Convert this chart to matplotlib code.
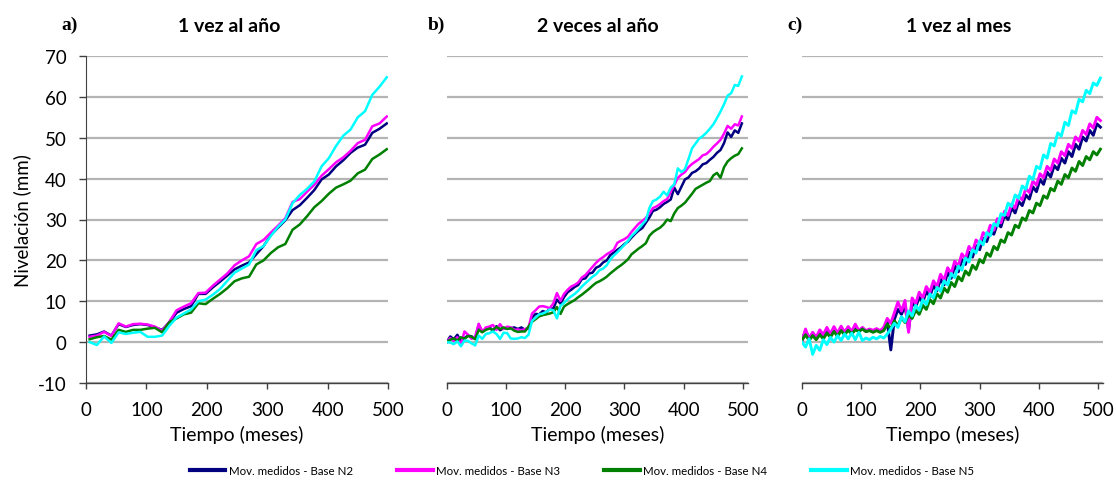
import numpy as np
import matplotlib
matplotlib.use("Agg")
import matplotlib.pyplot as plt
from matplotlib.lines import Line2D

plt.rcParams["font.family"] = ["Lato", "DejaVu Sans"]
plt.rcParams["axes.unicode_minus"] = False

# --- data -----------------------------------------------------------------
series_names = ["Mov. medidos - Base N2", "Mov. medidos - Base N3",
                "Mov. medidos - Base N4", "Mov. medidos - Base N5"]
series_colors = ["#000080", "#FF00FF", "#008000", "#00FFFF"]
panel_titles = ["1 vez al año", "2 veces al año", "1 vez al mes"]
panel_tags = ["a)", "b)", "c)"]
y_ticks = [-10, 0, 10, 20, 30, 40, 50, 60, 70]
x_ticks = [0, 100, 200, 300, 400, 500]

# a) one survey per year
t_a = list(range(6, 499, 12))
a_n2 = [1.6, 1.9, 2.6, 1.6, 4.4, 3.7, 4.2, 4.4, 4.2, 3.6, 3.0, 4.8, 7.2, 8.1,
        8.8, 11.8, 11.8, 13.4, 14.8, 16.3, 17.8, 18.7, 19.5, 21.5, 23.5, 26.2,
        28.0, 29.8, 32.3, 33.5, 35.3, 37.2, 39.8, 41.0, 43.0, 44.5, 46.3, 47.6,
        48.3, 51.2, 52.2, 53.5]
a_n3 = [1.3, 1.6, 2.5, 1.5, 4.6, 3.8, 4.4, 4.5, 4.3, 3.8, 2.8, 5.0, 7.8, 8.7,
        9.5, 12.0, 12.1, 13.8, 15.3, 16.8, 18.8, 20.0, 21.0, 24.0, 25.0, 26.8,
        28.5, 30.3, 34.3, 35.0, 36.8, 38.5, 40.7, 42.3, 44.0, 45.2, 46.8, 48.7,
        49.5, 52.8, 53.5, 55.2]
a_n4 = [0.7, 1.2, 1.5, 0.6, 3.0, 2.5, 3.0, 3.0, 3.3, 3.5, 2.4, 4.9, 5.8, 6.8,
        7.2, 9.5, 9.3, 10.6, 11.8, 13.2, 14.9, 15.6, 16.0, 19.0, 20.0, 21.8,
        23.2, 24.0, 27.5, 28.8, 30.8, 33.0, 34.5, 36.3, 37.8, 38.6, 39.5, 41.3,
        42.2, 44.8, 45.9, 47.2]
a_n5 = [0.0, -0.7, 1.4, -0.2, 2.4, 2.0, 2.3, 2.5, 1.3, 1.3, 1.6, 4.0, 6.0, 7.0,
        8.0, 10.0, 10.4, 11.6, 13.0, 15.0, 17.0, 18.0, 19.0, 22.5, 23.5, 26.0,
        28.2, 30.0, 34.0, 36.0, 37.5, 39.3, 43.0, 45.0, 48.0, 50.5, 52.0, 55.0,
        56.5, 60.5, 62.5, 64.8]

# b) two surveys per year
t_b = list(range(0, 499, 6))
b_n2 = [0.0, 1.4, 0.7, 1.8, 0.2, 1.0, 1.6, 1.4, 0.8, 4.3, 2.6, 3.2, 3.7, 2.8,
        3.9, 2.9, 3.4, 3.3, 3.4, 3.6, 3.2, 3.6, 3.0, 3.4, 6.0, 6.9, 6.8, 7.6,
        7.3, 8.2, 8.2, 10.4, 9.4, 11.0, 12.2, 12.8, 13.5, 14.0, 15.4, 15.6,
        16.8, 17.0, 18.2, 18.6, 19.5, 20.0, 21.3, 21.9, 22.6, 23.2, 24.0, 24.6,
        25.6, 26.5, 27.3, 27.9, 29.2, 30.5, 32.1, 32.4, 33.0, 33.8, 34.3, 34.9,
        37.8, 36.2, 38.0, 39.8, 40.3, 41.4, 41.8, 42.5, 43.5, 43.8, 44.6, 45.3,
        46.3, 47.0, 48.7, 51.3, 50.2, 51.8, 51.2, 53.5]
b_n3 = [0.0, 1.0, 0.3, 1.2, -0.6, 2.6, 1.8, 0.8, 1.4, 4.5, 2.5, 3.6, 3.8, 4.2,
        3.0, 4.4, 3.2, 3.8, 3.6, 3.0, 3.1, 2.9, 3.2, 3.5, 7.0, 7.8, 8.7, 8.8,
        8.6, 8.3, 9.5, 12.0, 10.1, 11.8, 12.8, 13.6, 14.0, 14.6, 15.8, 16.4,
        17.4, 18.4, 19.4, 20.2, 20.8, 21.5, 22.0, 22.6, 24.3, 24.8, 25.2, 25.8,
        27.0, 28.0, 29.0, 29.6, 30.4, 31.5, 32.8, 33.2, 33.8, 34.5, 35.0, 36.8,
        38.4, 40.2, 41.0, 41.6, 42.8, 43.6, 44.2, 44.8, 45.7, 46.0, 46.8, 47.8,
        48.6, 49.5, 51.0, 52.9, 52.2, 53.3, 53.0, 55.2]
b_n4 = [0.0, 0.6, 0.9, 0.4, 1.2, 0.8, 1.5, 1.3, 0.7, 3.0, 2.4, 3.0, 3.3, 3.0,
        3.7, 3.2, 3.6, 3.2, 3.4, 2.8, 2.5, 2.6, 2.6, 3.8, 5.0, 5.6, 6.3, 6.6,
        6.8, 7.0, 7.3, 8.6, 6.9, 8.7, 9.3, 9.8, 10.3, 11.0, 11.6, 12.3, 13.0,
        13.8, 14.5, 14.9, 15.4, 16.0, 16.8, 17.5, 18.2, 18.8, 19.5, 20.3, 21.5,
        22.2, 22.9, 23.5, 24.2, 26.0, 26.9, 27.5, 28.0, 28.8, 30.0, 29.6, 31.5,
        32.8, 33.4, 34.1, 35.2, 36.3, 37.5, 38.0, 38.5, 39.0, 39.4, 40.8, 41.4,
        40.2, 42.8, 44.2, 45.0, 45.6, 46.0, 47.4]
b_n5 = [0.0, -0.1, -0.5, 0.2, -1.0, 0.4, 0.3, -0.3, -0.8, 1.6, 0.8, 2.0, 2.2,
        2.6, 2.0, 0.8, 2.3, 2.2, 0.9, 0.8, 0.9, 1.2, 1.0, 1.8, 5.2, 6.0, 6.8,
        7.0, 7.4, 8.0, 7.8, 5.8, 8.9, 9.6, 10.5, 11.2, 11.8, 12.6, 13.6, 14.4,
        15.2, 16.0, 16.6, 17.6, 18.0, 18.8, 20.2, 21.2, 22.0, 22.9, 23.8, 24.8,
        26.0, 26.8, 27.8, 28.8, 29.8, 32.8, 34.5, 34.9, 35.6, 36.8, 35.9, 37.8,
        38.6, 42.5, 41.6, 42.3, 44.8, 47.4, 48.6, 49.8, 50.4, 51.2, 52.2, 53.3,
        54.8, 56.4, 58.2, 60.3, 60.9, 62.9, 62.7, 65.0]

# c) one survey per month
t_c = list(range(0, 505, 6))
c_n2 = [0.5, 2.8, 1.0, 2.2, 0.8, 2.6, 1.5, 3.2, 1.8, 3.4, 2.0, 3.5, 2.3, 3.6,
        2.4, 3.8, 2.6, 3.4, 2.6, 3.0, 2.7, 3.1, 2.6, 3.3, 5.0, -1.9, 5.6, 8.0,
        6.8, 9.0, 3.0, 9.8, 8.6, 11.0, 9.8, 12.4, 11.2, 13.8, 12.6, 15.4, 14.0,
        17.0, 15.6, 18.6, 17.2, 20.2, 19.0, 22.0, 20.8, 23.6, 22.6, 25.4, 24.6,
        27.2, 26.4, 29.0, 28.2, 31.0, 30.0, 32.8, 31.6, 34.4, 33.4, 36.0, 35.0,
        38.0, 36.8, 39.8, 38.6, 41.6, 40.4, 43.2, 42.2, 45.0, 43.8, 46.6, 45.4,
        48.4, 47.2, 50.2, 49.2, 51.8, 50.6, 53.4, 52.6]
c_n3 = [0.2, 3.2, 0.6, 2.4, 1.2, 3.0, 1.8, 3.6, 2.0, 3.8, 2.2, 3.9, 2.4, 3.8,
        2.6, 4.4, 2.8, 3.6, 2.8, 3.2, 2.9, 3.3, 2.8, 3.6, 5.8, 4.6, 7.2, 9.8,
        7.6, 10.2, 2.4, 10.8, 9.4, 12.2, 10.8, 13.6, 12.2, 15.0, 13.6, 16.6,
        15.2, 18.2, 16.8, 19.8, 18.6, 21.6, 20.4, 23.4, 22.2, 25.0, 24.0, 26.8,
        25.8, 28.6, 27.4, 30.2, 29.2, 32.0, 31.0, 33.8, 32.8, 35.8, 34.8, 37.6,
        36.6, 39.4, 38.4, 41.2, 40.2, 43.0, 42.0, 44.8, 43.8, 46.6, 45.6, 48.4,
        47.4, 50.2, 49.2, 51.8, 50.8, 53.4, 52.4, 55.0, 54.2]
c_n4 = [0.5, 1.8, 0.4, 1.6, 0.6, 1.8, 0.8, 2.2, 1.2, 2.6, 1.4, 2.8, 1.8, 2.9,
        2.0, 3.0, 2.6, 3.2, 2.6, 2.8, 2.4, 2.8, 2.4, 2.8, 4.4, 3.2, 5.2, 4.0,
        6.0, 4.8, 6.8, 5.8, 7.8, 6.8, 9.0, 8.0, 10.4, 9.4, 11.8, 10.8, 13.2,
        12.2, 14.6, 13.6, 16.0, 15.0, 17.4, 16.4, 18.8, 17.8, 20.2, 19.4, 21.8,
        21.0, 23.4, 22.6, 25.0, 24.4, 26.8, 26.2, 28.6, 28.0, 30.4, 29.8, 32.2,
        31.6, 34.0, 33.4, 35.8, 35.2, 37.6, 37.0, 39.4, 38.6, 41.0, 40.2, 42.6,
        41.8, 44.2, 43.2, 45.4, 44.6, 46.6, 45.8, 47.2]
c_n5 = [0.0, -1.2, 0.8, -3.0, -0.8, -2.0, 0.6, -0.6, 1.2, 0.0, 1.6, 0.4, 2.0,
        0.8, 2.2, 0.6, 2.4, 0.4, 1.0, 0.6, 1.2, 0.8, 1.4, 1.0, 2.0, 3.2, 4.6,
        3.6, 6.2, 5.0, 7.6, 6.4, 9.0, 7.8, 10.4, 9.2, 11.8, 10.8, 13.4, 12.4,
        15.0, 14.0, 16.8, 15.8, 18.6, 17.6, 20.6, 19.6, 22.6, 21.8, 24.8, 23.8,
        26.8, 26.0, 29.0, 28.4, 31.4, 31.0, 34.0, 33.2, 36.0, 35.2, 38.2, 37.4,
        40.6, 39.8, 43.0, 42.4, 45.8, 45.0, 48.6, 48.0, 51.2, 50.4, 53.8, 53.0,
        56.6, 56.0, 59.4, 58.8, 61.6, 60.8, 63.4, 62.8, 64.6]

panels = [
    (t_a, [a_n2, a_n3, a_n4, a_n5], 500, 1.8),
    (t_b, [b_n2, b_n3, b_n4, b_n5], 508.4, 1.8),
    (t_c, [c_n2, c_n3, c_n4, c_n5], 508.4, 2.1),
]

# --- figure ---------------------------------------------------------------
fig = plt.figure(figsize=(11.16, 4.81), dpi=100)
W, H = 1116, 481
axes_px = [(86, 388), (446.7, 748), (802, 1103)]
top_px, bottom_px = 57, 384
title_x = [229, 598, 959]
tag_x = [70, 436, 795]

for i, (t, ys, xmax, lw) in enumerate(panels):
    x0, x1 = axes_px[i]
    ax = fig.add_axes([x0 / W, 1 - bottom_px / H, (x1 - x0) / W,
                       (bottom_px - top_px) / H])
    for y, c in zip(ys, series_colors):
        ax.plot(t, y, color=c, lw=lw, solid_joinstyle="round", zorder=3)
    ax.set_xlim(0, xmax)
    ax.set_ylim(-10, 70)
    ax.set_xticks(x_ticks)
    ax.set_yticks(y_ticks)
    ax.yaxis.grid(True, color="#b4b4b4", lw=1.6, zorder=0)
    ax.set_axisbelow(True)
    for s in ["top", "right"]:
        ax.spines[s].set_visible(False)
    ax.spines["bottom"].set_color("#404040")
    ax.spines["bottom"].set_linewidth(1.0)
    ax.tick_params(axis="x", length=4, width=1.0, color="#404040",
                   labelsize=13.5, pad=9)
    if i == 0:
        ax.spines["left"].set_color("#404040")
        ax.tick_params(axis="y", length=5, width=1.0, color="#404040",
                       labelsize=13.5, pad=9)
        ax.set_ylabel("Nivelación (mm)", fontsize=13.5, labelpad=5)
    else:
        ax.spines["left"].set_visible(False)
        ax.tick_params(axis="y", length=0, labelleft=False)
    ax.set_xlabel("Tiempo (meses)", fontsize=14, labelpad=5)
    fig.text(title_x[i] / W, 1 - 27 / H, panel_titles[i], fontsize=14,
             fontweight="bold", ha="center", va="center")
    fig.text(tag_x[i] / W, 1 - 25 / H, panel_tags[i], fontsize=14,
             fontweight="bold", family="Liberation Serif",
             ha="center", va="center")

handles = [Line2D([], [], color=c, lw=3) for c in series_colors]
fig.legend(handles, series_names, loc="center", ncol=4, frameon=False,
           bbox_to_anchor=(582 / W, 1 - 472 / H), fontsize=8.3,
           handlelength=3.1, handletextpad=0.3, columnspacing=3.8)

fig.savefig("out.png", dpi=100)
